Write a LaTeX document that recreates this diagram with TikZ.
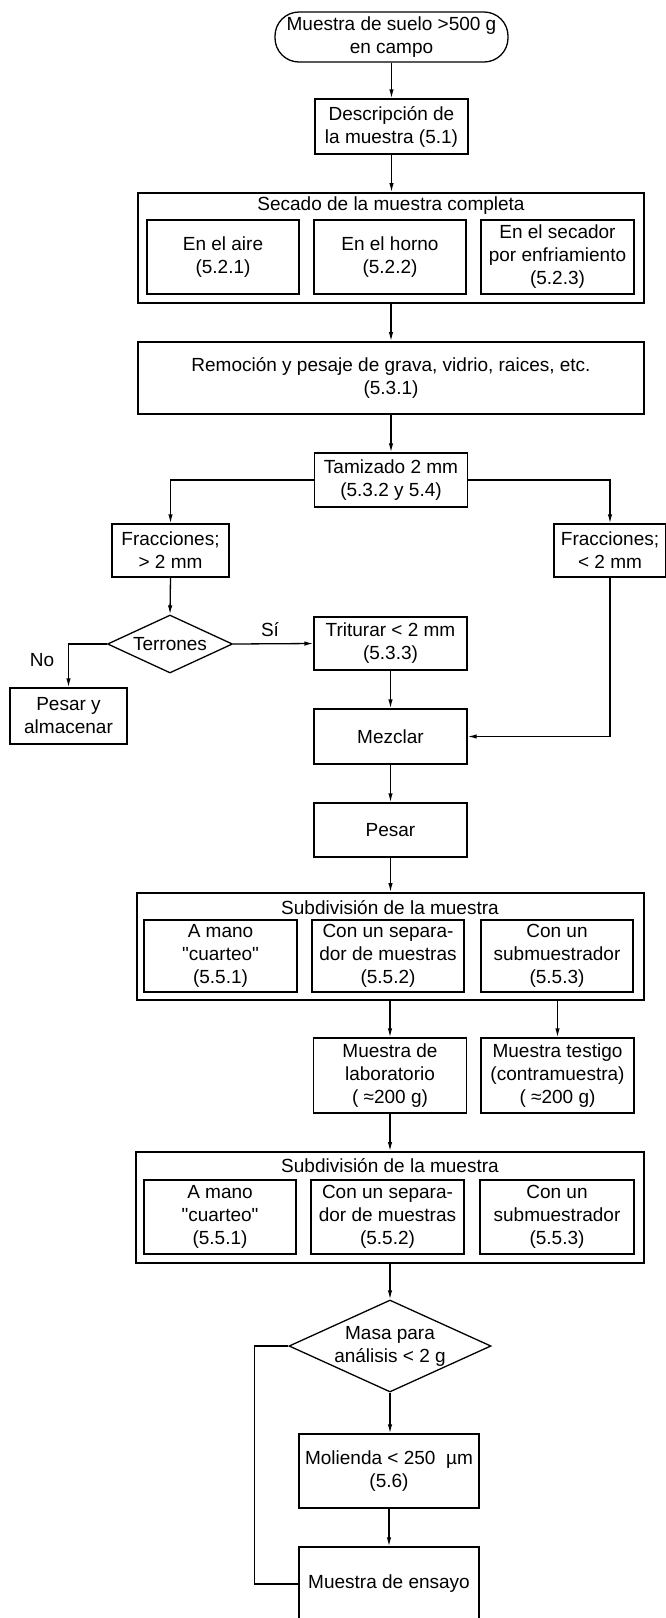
\documentclass[tikz,border=0pt]{standalone}
\usepackage{fontspec}
\newfontfamily\diagfont{Liberation Sans}
\usetikzlibrary{arrows.meta,shapes.geometric}
\begin{document}
\begin{tikzpicture}[x=1pt,y=-1pt,
  every node/.style={font=\diagfont\fontsize{19}{23}\selectfont, align=center, inner sep=0pt},
  box/.style={draw, rectangle, line width=1.3pt},
  outerbox/.style={draw, rectangle, line width=1.8pt},
  term/.style={draw, rectangle, rounded corners=24pt, line width=1.3pt},
  decision/.style={draw, diamond, line width=1.3pt},
  lbl/.style={font=\diagfont\fontsize{19}{23}\selectfont},
  line/.style={line width=1.3pt},
  arr/.style={line width=1.3pt, -{Latex[length=9pt,width=4.5pt]}}
]
\useasboundingbox (0,0) rectangle (666,1618);
\clip (0,0) rectangle (666,1618);
\fill[white] (0,0) rectangle (666,1618);

% top
\node[term, minimum width=233pt, minimum height=50pt] (start) at (391.5,37) {Muestra de suelo >500 g\\en campo};
\node[box, minimum width=153pt, minimum height=55pt] (desc) at (391.5,126.5) {Descripción de\\la muestra (5.1)};

% secado
\node[outerbox, minimum width=506pt, minimum height=110pt] (secado) at (391,248) {};
\node (secadot) at (391,206) {Secado de la muestra completa};
\node[box, minimum width=152pt, minimum height=74pt] (s1) at (223,257) {En el aire\\(5.2.1)};
\node[box, minimum width=152pt, minimum height=74pt] (s2) at (390,257) {En el horno\\(5.2.2)};
\node[box, minimum width=153pt, minimum height=74pt] (s3) at (557.5,257) {En el secador\\por enfriamiento\\(5.2.3)};

\node[outerbox, minimum width=506pt, minimum height=72pt] (remo) at (391,378) {Remoción y pesaje de grava, vidrio, raices, etc.\\(5.3.1)};

\node[box, minimum width=153pt, minimum height=54pt] (tamiz) at (391,480) {Tamizado 2 mm\\(5.3.2 y 5.4)};
\node[box, minimum width=117pt, minimum height=53pt] (fr1) at (170.5,550.5) {Fracciones;\\> 2 mm};
\node[box, minimum width=112pt, minimum height=53pt] (fr2) at (610,550.5) {Fracciones;\\< 2 mm};

\node[decision, shape aspect=2.15, minimum width=125pt, minimum height=58pt] (terr) at (170,644) {Terrones};
\node[box, minimum width=153pt, minimum height=53pt] (trit) at (390.5,643.5) {Triturar < 2 mm\\(5.3.3)};
\node[box, minimum width=117pt, minimum height=56pt] (pesalm) at (68.5,716) {Pesar y\\almacenar};
\node[lbl] (si) at (270,630) {Sí};
\node[lbl] (no) at (42,660) {No};

\node[box, minimum width=153pt, minimum height=55pt] (mez) at (390.5,736.5) {Mezclar};
\node[box, minimum width=153pt, minimum height=54pt] (pesar) at (390.5,830) {Pesar};

% subdivision 1
\node[outerbox, minimum width=507pt, minimum height=107pt] (sub1) at (390.5,946.5) {};
\node (sub1t) at (390,908) {Subdivisión de la muestra};
\node[box, minimum width=153pt, minimum height=72pt] (a1) at (220.5,956) {A mano\\"cuarteo"\\(5.5.1)};
\node[box, minimum width=152pt, minimum height=72pt] (b1) at (388,956) {Con un separa-\\dor de muestras\\(5.5.2)};
\node[box, minimum width=152pt, minimum height=72pt] (c1) at (557,956) {Con un\\submuestrador\\(5.5.3)};

\node[box, minimum width=153pt, minimum height=75pt] (lab) at (390,1075.5) {Muestra de\\laboratorio\\( ≈200 g)};
\node[box, minimum width=153pt, minimum height=75pt] (test) at (557.5,1075.5) {Muestra testigo\\(contramuestra)\\( ≈200 g)};

% subdivision 2
\node[outerbox, minimum width=508pt, minimum height=111pt] (sub2) at (390,1207.5) {};
\node (sub2t) at (390,1166) {Subdivisión de la muestra};
\node[box, minimum width=152pt, minimum height=74pt] (a2) at (220,1217) {A mano\\"cuarteo"\\(5.5.1)};
\node[box, minimum width=153pt, minimum height=74pt] (b2) at (387.5,1217) {Con un separa-\\dor de muestras\\(5.5.2)};
\node[box, minimum width=154pt, minimum height=74pt] (c2) at (557,1217) {Con un\\submuestrador\\(5.5.3)};

\node[decision, shape aspect=2.2, minimum width=202pt, minimum height=92pt] (masa) at (390,1346) {Masa para\\análisis < 2 g};
\node[box, minimum width=180pt, minimum height=74pt] (mol) at (389,1471) {Molienda < 250~ µm\\(5.6)};
\node[box, minimum width=180pt, minimum height=74pt] (ens) at (389,1584) {Muestra de ensayo};

% connectors
\draw[arr] (start.south) -- (start.south |- desc.north);
\draw[arr] (desc.south) -- (desc.south |- secado.north);
\draw[arr] (secado.south) -- (secado.south |- remo.north);
\draw[arr] (remo.south -| tamiz.north) -- (tamiz.north);
\draw[arr] (tamiz.west) -| (fr1.north);
\draw[arr] (tamiz.east) -| (fr2.north);
\draw[arr] (fr1.south) -- (terr.north);
\draw[arr] (terr.east) -- (trit.west);
\draw[arr] (terr.west) -| (pesalm.north);
\draw[arr] (trit.south) -- (trit.south |- mez.north);
\draw[arr] (fr2.south) |- (mez.east);
\draw[arr] (mez.south) -- (mez.south |- pesar.north);
\draw[arr] (pesar.south) -- (pesar.south |- sub1.north);
\draw[arr] (lab.north |- sub1.south) -- (lab.north);
\draw[arr] (test.north |- sub1.south) -- (test.north);
\draw[arr] (lab.south) -- (lab.south |- sub2.north);
\draw[arr] (masa.north |- sub2.south) -- (masa.north);
\draw[arr] (masa.south) -- (masa.south |- mol.north);
\draw[arr] (mol.south) -- (mol.south |- ens.north);
\draw[line] (masa.west) -- ++(-34,0) |- (ens.west);
\end{tikzpicture}
\end{document}
